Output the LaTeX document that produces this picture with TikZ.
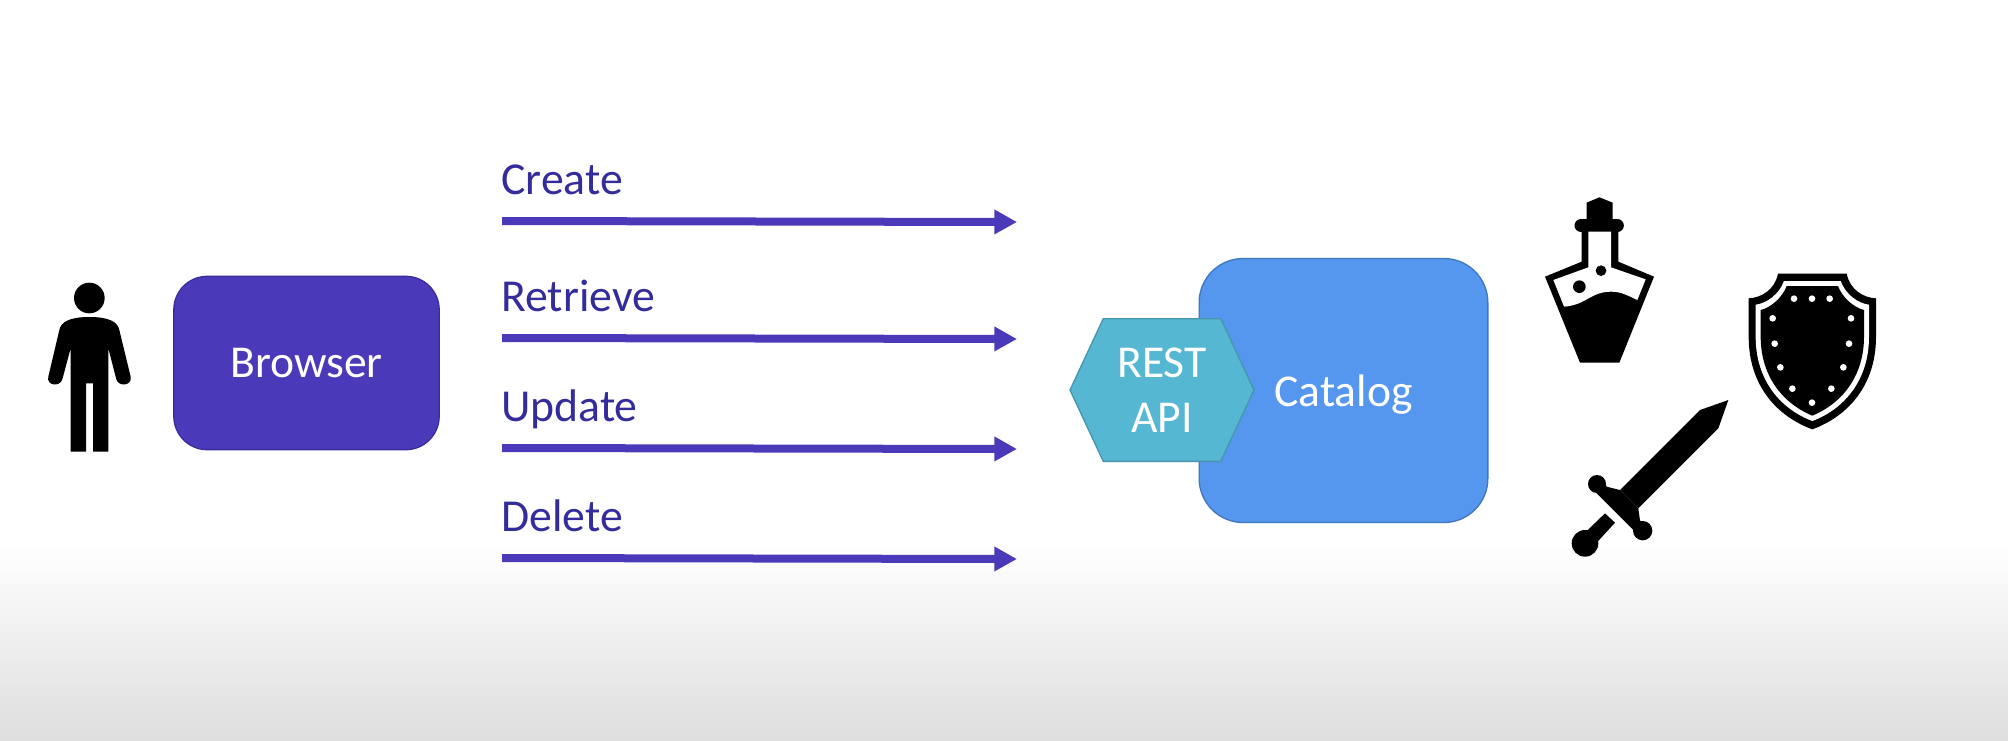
\documentclass[tikz,border=0pt]{standalone}
\usepackage{fontspec}
\setmainfont{Carlito}
\usetikzlibrary{arrows.meta,shapes.symbols}
\definecolor{browserblue}{HTML}{4A3ABA}
\definecolor{browseredge}{HTML}{3A2C9A}
\definecolor{labelblue}{HTML}{352C9C}
\definecolor{catalogblue}{HTML}{5596EE}
\definecolor{catalogedge}{HTML}{3F78BC}
\definecolor{restteal}{HTML}{56B7D2}
\definecolor{restedge}{HTML}{4596AE}
\tikzset{
  boxtext/.style={text=white,font=\fontsize{34.2}{41}\selectfont,text depth=-2pt,inner sep=0pt,align=center},
  crudlabel/.style={text=labelblue,font=\fontsize{34.3}{41}\selectfont,anchor=base west,inner sep=0pt},
  crudarrow/.style={draw=browserblue,line width=6pt,-{Triangle[length=17pt,width=17.5pt]}},
  icon/.style={shift={(#1)},scale=1/3},
}
\begin{document}
\begin{tikzpicture}[x=0.75pt,y=0.75pt,yscale=-1,xscale=1]
\useasboundingbox (0,0) rectangle (2008,740);

% Background fade
\fill [white] (0,0) rectangle (2008,740);
\shade [top color=white,bottom color=black!13] (0,545) rectangle (2008,740);

% Person
\begin{scope}[icon={20,250}]
\fill (208,144) circle (46);
\fill (152,605) -- (152,295) -- (127,388) .. controls (120,412) and (78,407) .. (85,380) -- (118,240) .. controls (123,215) and (150,201) .. (208,201) .. controls (266,201) and (293,215) .. (298,240) -- (332,380) .. controls (338,407) and (296,412) .. (289,388) -- (265,295) -- (265,605) -- (219,605) -- (219,400) -- (198,400) -- (198,605) -- cycle;
\end{scope}

% Browser box
\node (browser) at (306.5,363) [boxtext,text depth=-3.5pt,draw=browseredge,line width=1pt,fill=browserblue,rounded corners=25pt,minimum width=199pt,minimum height=130pt] {Browser};

% Arrows with labels
\coordinate (createstart) at (502,221);
\coordinate (createend) at (1017,222);
\draw [crudarrow] (createstart) -- (createend);
\node (create) at (501,194.5) [crudlabel] {Create};

\coordinate (retrievestart) at (502,338);
\coordinate (retrieveend) at (1017,339);
\draw [crudarrow] (retrievestart) -- (retrieveend);
\node (retrieve) at (501,311.5) [crudlabel] {Retrieve};

\coordinate (updatestart) at (502,448);
\coordinate (updateend) at (1017,449);
\draw [crudarrow] (updatestart) -- (updateend);
\node (update) at (501,421.5) [crudlabel] {Update};

\coordinate (deletestart) at (502,558);
\coordinate (deleteend) at (1017,559);
\draw [crudarrow] (deletestart) -- (deleteend);
\node (delete) at (501,531.5) [crudlabel] {Delete};

% Catalog box and its REST hexagon
\node (catalog) at (1343.5,390.5) [boxtext,draw=catalogedge,line width=1pt,fill=catalogblue,rounded corners=33pt,minimum width=216.5pt,minimum height=198pt] {Catalog};
\node (restapi) at (1162,390) [boxtext,text depth=-3pt,shape=signal,signal to=west and east,signal pointer angle=130,draw=restedge,line width=1pt,fill=restteal,minimum width=138pt,minimum height=107pt] {REST\\API};

% Potion
\begin{scope}[icon={1500,180}]
\fill (298,52) -- (338,68) -- (338,118) -- (260,118) -- (260,68) -- cycle;
\fill (243,117) rectangle (352,156);
\fill (243,136.5) circle (19.5);
\fill (352,136.5) circle (19.5);
\fill (245,155) -- (245,245) -- (135,290) -- (240,548) -- (358,548) -- (462,290) -- (355,245) -- (355,155) -- cycle;
\fill [white] (265,155) -- (265,262) -- (160,300) -- (192,380) .. controls (260,375) and (270,335) .. (335,335) .. controls (365,335) and (390,350) .. (412,360) -- (437,298) -- (333,262) -- (333,155) -- cycle;
\fill (238,320) circle (19);
\fill (303,272) circle (16);
\end{scope}

% Shield
\begin{scope}[icon={1500,180}]
\fill (834,281) -- (1040,281) .. controls (1050,330) and (1090,353) .. (1128,355) -- (1128,470) .. controls (1128,620) and (1040,710) .. (937,748) .. controls (834,710) and (746,620) .. (746,470) -- (746,355) .. controls (784,353) and (824,330) .. (834,281) -- cycle;
\fill [white] (852,303) -- (1022,303) .. controls (1036,342) and (1073,370) .. (1107,374) -- (1107,470) .. controls (1107,603) and (1030,688) .. (937,723) .. controls (844,688) and (767,603) .. (767,470) -- (767,374) .. controls (801,370) and (838,342) .. (852,303) -- cycle;
\fill (860,318) -- (1014,318) .. controls (1027,353) and (1062,383) .. (1092,390) -- (1092,470) .. controls (1092,592) and (1022,672) .. (937,707) .. controls (852,672) and (782,592) .. (782,470) -- (782,390) .. controls (812,383) and (847,353) .. (860,318) -- cycle;
\fill [white] (882,356) circle (10) (936,356) circle (10) (989,356) circle (10)
  (818,415) circle (10) (1053,415) circle (10) (824,491) circle (10) (1047,491) circle (10)
  (841,562) circle (10) (1030,562) circle (10) (877,626) circle (10) (994,626) circle (10)
  (936,668) circle (10);
\end{scope}

% Sword
\begin{scope}[icon={1500,180}]
\fill (685,660) -- (655,745) -- (415,985) -- (360,930) -- (600,690) -- cycle;
\fill (275,925) -- (405,1055) -- (445,1030) -- (420,1022) -- (415,985) -- (360,930) -- (320,920) -- (308,895) -- cycle;
\fill (291,912) circle (27);
\fill (428,1052) circle (29);
\fill (255,1090) circle (40);
\fill (258,1055) -- (315,1000) -- (345,1028) -- (290,1088) -- cycle;
\end{scope}

\end{tikzpicture}
\end{document}
